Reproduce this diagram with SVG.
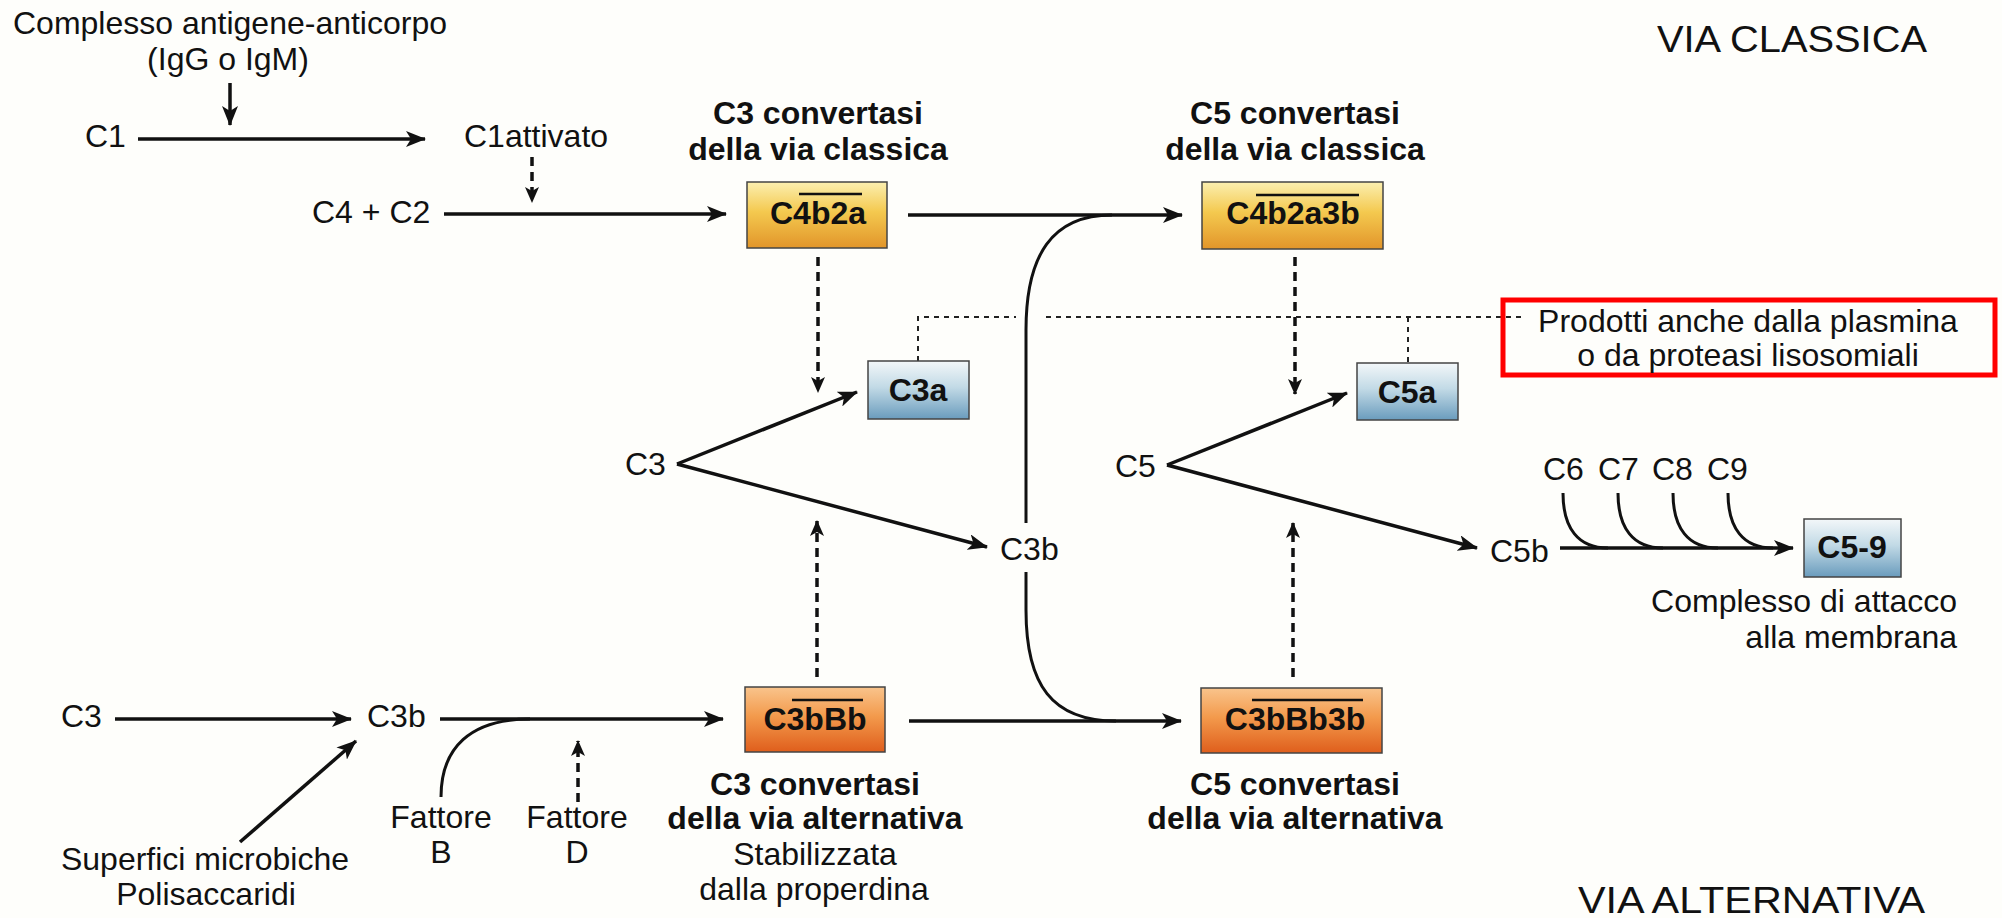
<svg xmlns="http://www.w3.org/2000/svg" width="2002" height="918" viewBox="0 0 2002 918">
<defs>
<style>
text{font-family:"Liberation Sans",Arial,sans-serif;fill:#111}
.r{font-size:32px}
.b{font-size:32px;font-weight:bold}
.m{text-anchor:middle}
.e{text-anchor:end}
.big{font-size:37px}
.ln{fill:none;stroke:#111;stroke-width:3.5}
.thin{fill:none;stroke:#111;stroke-width:3}
.dash{fill:none;stroke:#111;stroke-width:3.5;stroke-dasharray:9 6}
.dot{fill:none;stroke:#222;stroke-width:2;stroke-dasharray:5 5}
.box{stroke:#444;stroke-width:1.5}
.ov{stroke:#111;stroke-width:2.5}
</style>
<linearGradient id="gGold" x1="0" y1="0" x2="0" y2="1">
<stop offset="0" stop-color="#fbefb0"/>
<stop offset="0.45" stop-color="#f4c94f"/>
<stop offset="1" stop-color="#e2952a"/>
</linearGradient>
<linearGradient id="gOr" x1="0" y1="0" x2="0" y2="1">
<stop offset="0" stop-color="#f9c48c"/>
<stop offset="0.45" stop-color="#f39a4c"/>
<stop offset="1" stop-color="#df5e1c"/>
</linearGradient>
<linearGradient id="gBl" x1="0" y1="0" x2="0" y2="1">
<stop offset="0" stop-color="#f3f7f9"/>
<stop offset="0.45" stop-color="#c2dae6"/>
<stop offset="1" stop-color="#6a9cbd"/>
</linearGradient>
<marker id="ah" markerUnits="userSpaceOnUse" markerWidth="20" markerHeight="16" refX="19" refY="8" orient="auto">
<path d="M0,0 L20,8 L0,16 L5,8 z" fill="#111"/>
</marker>
<marker id="ahs" markerUnits="userSpaceOnUse" markerWidth="16" markerHeight="14" refX="15" refY="7" orient="auto">
<path d="M0,0 L16,7 L0,14 L4,7 z" fill="#111"/>
</marker>
</defs>
<rect width="2002" height="918" fill="#fefefb"/>

<g id="connectors">
<path class="ln" d="M230,83 V125" marker-end="url(#ah)"/>
<path class="ln" d="M138,139 H425" marker-end="url(#ah)"/>
<path class="dash" d="M532,157 V202" marker-end="url(#ahs)"/>
<path class="ln" d="M444,214 H726" marker-end="url(#ah)"/>
<path class="ln" d="M908,215 H1182" marker-end="url(#ah)"/>
<path class="thin" d="M1026,523 V330 C1026,255 1052,215 1112,215"/>
<path class="thin" d="M1026,572 V610 C1026,685 1052,721 1116,721"/>
<path class="dash" d="M818,257 V392" marker-end="url(#ahs)"/>
<path class="dash" d="M1295,257 V394" marker-end="url(#ahs)"/>
<path class="dot" d="M918,361 V317 H1016"/>
<path class="dot" d="M1046,317 H1523"/>
<path class="dot" d="M1408,317 V362"/>
<path class="ln" d="M677,464 L857,392" marker-end="url(#ah)"/>
<path class="ln" d="M677,464 L987,547" marker-end="url(#ah)"/>
<path class="ln" d="M1167,465 L1347,393" marker-end="url(#ah)"/>
<path class="ln" d="M1167,465 L1477,548" marker-end="url(#ah)"/>
<path class="dash" d="M817,677 V521" marker-end="url(#ahs)"/>
<path class="dash" d="M1293,677 V523" marker-end="url(#ahs)"/>
<path class="ln" d="M1560,548 H1793" marker-end="url(#ah)"/>
<path class="thin" d="M1563,493 C1563,528 1578,548 1608,548"/>
<path class="thin" d="M1618,493 C1618,528 1633,548 1663,548"/>
<path class="thin" d="M1673,493 C1673,528 1688,548 1718,548"/>
<path class="thin" d="M1728,493 C1728,528 1743,548 1773,548"/>
<path class="ln" d="M115,719 H351" marker-end="url(#ah)"/>
<path class="ln" d="M240,842 L356,741" marker-end="url(#ah)"/>
<path class="ln" d="M440,719 H723" marker-end="url(#ah)"/>
<path class="thin" d="M441,797 C441,748 470,719 530,719"/>
<path class="dash" d="M578,802 V741" marker-end="url(#ahs)"/>
<path class="ln" d="M909,721 H1181" marker-end="url(#ah)"/>
</g>

<g id="titles">
<text class="big" x="1657" y="52" textLength="270" lengthAdjust="spacingAndGlyphs">VIA CLASSICA</text>
<text class="big" x="1578" y="913" font-size="38" textLength="347" lengthAdjust="spacingAndGlyphs">VIA ALTERNATIVA</text>
</g>

<g id="antigen">
<text class="r m" x="230" y="34">Complesso antigene-anticorpo</text>
<text class="r m" x="228" y="70">(IgG o IgM)</text>
</g>
<g id="C1"><text class="r" x="85" y="147">C1</text></g>
<g id="C1attivato"><text class="r" x="464" y="147">C1attivato</text></g>
<g id="C4C2"><text class="r" x="312" y="223">C4 + C2</text></g>

<g id="C4b2a">
<text class="b m" x="818" y="124">C3 convertasi</text>
<text class="b m" x="818" y="160">della via classica</text>
<rect class="box" x="747" y="182" width="140" height="66" fill="url(#gGold)"/>
<line class="ov" x1="799" y1="194" x2="862" y2="194"/>
<text class="b m" x="818" y="224">C4b2a</text>
</g>

<g id="C4b2a3b">
<text class="b m" x="1295" y="124">C5 convertasi</text>
<text class="b m" x="1295" y="160">della via classica</text>
<rect class="box" x="1202" y="182" width="181" height="67" fill="url(#gGold)"/>
<line class="ov" x1="1256" y1="195" x2="1359" y2="195"/>
<text class="b m" x="1293" y="224">C4b2a3b</text>
</g>

<g id="C3a">
<rect class="box" x="868" y="361" width="101" height="58" fill="url(#gBl)"/>
<text class="b m" x="918" y="401">C3a</text>
</g>
<g id="C5a">
<rect class="box" x="1357" y="363" width="101" height="57" fill="url(#gBl)"/>
<text class="b m" x="1407" y="403">C5a</text>
</g>

<g id="note">
<rect x="1503" y="300" width="492" height="75" fill="none" stroke="#ff0000" stroke-width="5"/>
<text class="r m" x="1748" y="332">Prodotti anche dalla plasmina</text>
<text class="r m" x="1748" y="366">o da proteasi lisosomiali</text>
</g>

<g id="C3"><text class="r" x="625" y="475">C3</text></g>
<g id="C3b"><text class="r" x="1000" y="560">C3b</text></g>
<g id="C5"><text class="r" x="1115" y="477">C5</text></g>
<g id="C5b"><text class="r" x="1490" y="562">C5b</text></g>
<g id="C6"><text class="r" x="1543" y="480">C6</text></g>
<g id="C7"><text class="r" x="1598" y="480">C7</text></g>
<g id="C8"><text class="r" x="1652" y="480">C8</text></g>
<g id="C9"><text class="r" x="1707" y="480">C9</text></g>

<g id="C5-9">
<rect class="box" x="1804" y="519" width="97" height="58" fill="url(#gBl)"/>
<text class="b m" x="1852" y="558">C5-9</text>
<text class="r e" x="1957" y="612">Complesso di attacco</text>
<text class="r e" x="1957" y="648">alla membrana</text>
</g>

<g id="C3alt"><text class="r" x="61" y="727">C3</text></g>
<g id="C3balt"><text class="r" x="367" y="727">C3b</text></g>
<g id="superfici">
<text class="r m" x="205" y="870">Superfici microbiche</text>
<text class="r m" x="206" y="905">Polisaccaridi</text>
</g>
<g id="fattoreB">
<text class="r m" x="441" y="828">Fattore</text>
<text class="r m" x="441" y="863">B</text>
</g>
<g id="fattoreD">
<text class="r m" x="577" y="828">Fattore</text>
<text class="r m" x="577" y="863">D</text>
</g>

<g id="C3bBb">
<rect class="box" x="745" y="687" width="140" height="65" fill="url(#gOr)"/>
<line class="ov" x1="792" y1="700" x2="863" y2="700"/>
<text class="b m" x="815" y="730">C3bBb</text>
<text class="b m" x="815" y="795">C3 convertasi</text>
<text class="b m" x="815" y="829">della via alternativa</text>
<text class="r m" x="815" y="865">Stabilizzata</text>
<text class="r m" x="814" y="900">dalla properdina</text>
</g>

<g id="C3bBb3b">
<rect class="box" x="1201" y="688" width="181" height="65" fill="url(#gOr)"/>
<line class="ov" x1="1252" y1="700" x2="1363" y2="700"/>
<text class="b m" x="1295" y="730">C3bBb3b</text>
<text class="b m" x="1295" y="795">C5 convertasi</text>
<text class="b m" x="1295" y="829">della via alternativa</text>
</g>
</svg>
